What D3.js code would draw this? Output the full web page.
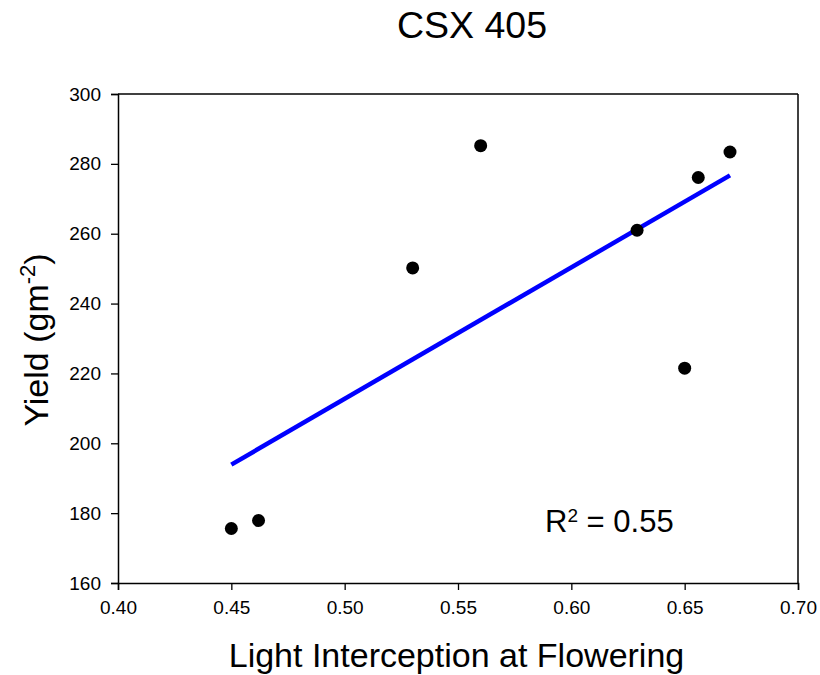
<!DOCTYPE html>
<html>
<head>
<meta charset="utf-8">
<script src="https://cdn.jsdelivr.net/npm/d3@7"></script>
<style>
  body { margin: 0; background: #fff; }
  svg { font-family: "Liberation Sans", Arial, sans-serif; }
</style>
</head>
<body>
<svg id="chart" width="820" height="675"></svg>
<script>
// Data
const lightInterception = [0.45, 0.462, 0.53, 0.56, 0.629, 0.65, 0.656, 0.67];
const yieldValues = [175.6, 177.9, 250.2, 285.2, 261.0, 221.5, 276.1, 283.4];
const fitX = [0.45, 0.67];
const fitY = [193.9, 276.7];
const xTicks = [0.40, 0.45, 0.50, 0.55, 0.60, 0.65, 0.70];
const yTicks = [160, 180, 200, 220, 240, 260, 280, 300];
const titleText = "CSX 405";
const xLabel = "Light Interception at Flowering";
const r2Value = "0.55";

const svg = d3.select("#chart");
const mLeft = 118, mRight = 798, mTop = 94, mBottom = 583;

const x = d3.scaleLinear().domain([0.40, 0.70]).range([mLeft, mRight]);
const y = d3.scaleLinear().domain([160, 300]).range([mBottom, mTop]);

// Frame (top and right)
svg.append("line").attr("x1", mLeft).attr("x2", mRight).attr("y1", mTop).attr("y2", mTop)
  .attr("stroke", "#000").attr("stroke-width", 1.5);
svg.append("line").attr("x1", mRight).attr("x2", mRight).attr("y1", mTop).attr("y2", mBottom)
  .attr("stroke", "#000").attr("stroke-width", 1.5);

// Axes
const xAxis = svg.append("g").attr("transform", `translate(0,${mBottom})`)
  .call(d3.axisBottom(x).tickValues(xTicks).tickFormat(d3.format(".2f")).tickSizeOuter(0).tickSize(7).tickPadding(11));
const yAxis = svg.append("g").attr("transform", `translate(${mLeft},0)`)
  .call(d3.axisLeft(y).tickValues(yTicks).tickFormat(d3.format("d")).tickSizeOuter(0).tickSize(7).tickPadding(10));

[xAxis, yAxis].forEach(g => {
  g.select(".domain").attr("stroke", "#000").attr("stroke-width", 1.5);
  g.selectAll(".tick line").attr("stroke", "#000").attr("stroke-width", 1.3);
  g.selectAll(".tick text").attr("fill", "#000").style("font-size", "19px")
    .style("font-family", "'Liberation Sans', Arial, sans-serif");
});

// Regression line
svg.append("line")
  .attr("x1", x(fitX[0])).attr("y1", y(fitY[0]))
  .attr("x2", x(fitX[1])).attr("y2", y(fitY[1]))
  .attr("stroke", "#0000ff").attr("stroke-width", 4.5);

// Points
svg.append("g").selectAll("circle")
  .data(lightInterception.map((v, i) => [v, yieldValues[i]]))
  .join("circle")
  .attr("cx", d => x(d[0])).attr("cy", d => y(d[1]))
  .attr("r", 6.5).attr("fill", "#000");

// Title
svg.append("text").attr("x", 472).attr("y", 38).attr("text-anchor", "middle")
  .style("font-size", "37.5px").text(titleText);

// X label
svg.append("text").attr("x", 456.5).attr("y", 667).attr("text-anchor", "middle")
  .style("font-size", "34px").text(xLabel);

// Y label
const yl = svg.append("text")
  .attr("transform", "translate(48,340) rotate(-90)")
  .attr("text-anchor", "middle")
  .style("font-size", "34px");
yl.append("tspan").text("Yield (gm");
yl.append("tspan").attr("dy", -13).style("font-size", "22px").text("-2");
yl.append("tspan").attr("dy", 13).text(")");

// R^2 annotation
const r2 = svg.append("text").attr("x", 545).attr("y", 532).style("font-size", "31px");
r2.append("tspan").text("R");
r2.append("tspan").attr("dy", -10).style("font-size", "19px").text("2");
r2.append("tspan").attr("dy", 10).text(" = " + r2Value);
</script>
</body>
</html>
